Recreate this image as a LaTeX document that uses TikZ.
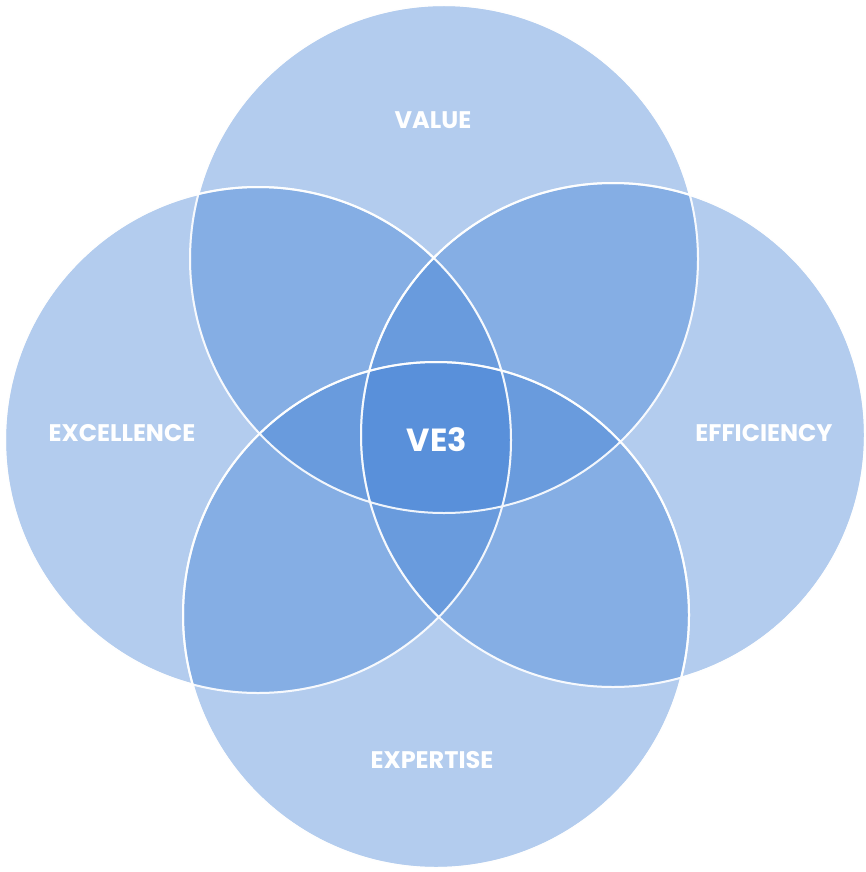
\documentclass[tikz,border=0pt]{standalone}
\usepackage{fontspec}
\setmainfont{Poppins}
\begin{document}
\begin{tikzpicture}[x=1pt,y=-1pt,
  petal/.style={fill={rgb,255:red,64;green,128;blue,212},fill opacity=0.4,draw=white,draw opacity=0.9,line width=2pt},
  lbl/.style={text=white,font=\bfseries\fontsize{24}{28}\selectfont}]
\useasboundingbox (0,0) rectangle (866,872);
\path[petal] (444,259) circle (254);
\path[petal] (258,440) circle (253);
\path[petal] (613,435) circle (252);
\path[petal] (436,615) circle (253);
\draw[white,line width=2pt,opacity=0.9] (444,259) circle (254) (258,440) circle (253) (613,435) circle (252) (436,615) circle (253);
\node[lbl] (v) at (433,120) {VALUE};
\node[lbl] (ex) at (122,433) {EXCELLENCE};
\node[lbl] (ef) at (764,433) {EFFICIENCY};
\node[lbl] (xp) at (432,760) {EXPERTISE};
\node[lbl,font=\bfseries\fontsize{32}{36}\selectfont] (c) at (437,440) {VE3};
\end{tikzpicture}
\end{document}
